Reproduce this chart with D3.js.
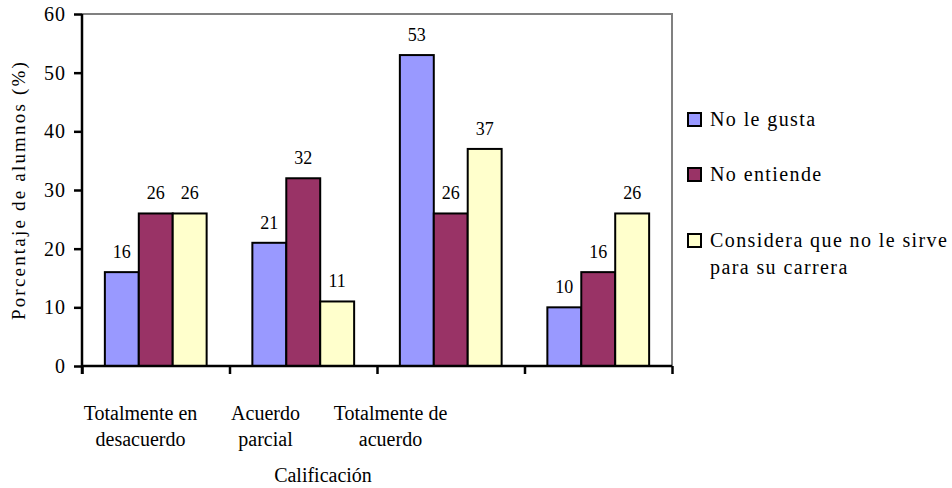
<!DOCTYPE html>
<html>
<head>
<meta charset="utf-8">
<script src="https://cdn.jsdelivr.net/npm/d3@7"></script>
<style>
  body { margin: 0; background: #fff; }
</style>
</head>
<body>
<script>
// Data
var categories = ["Totalmente en desacuerdo", "Acuerdo parcial", "Totalmente de acuerdo", ""];
var categoryLines = [["Totalmente en", "desacuerdo"], ["Acuerdo", "parcial"], ["Totalmente de", "acuerdo"], [""]];
var seriesNames = ["No le gusta", "No entiende", "Considera que no le sirve para su carrera"];
var legendLines = [["No le gusta"], ["No entiende"], ["Considera que no le sirve", "para su carrera"]];
var noLeGusta = [16, 21, 53, 10];
var noEntiende = [26, 32, 26, 16];
var noLeSirve = [26, 11, 37, 26];
var yTicks = [0, 10, 20, 30, 40, 50, 60];

var colors = ["#9999ff", "#993366", "#ffffcc"];
var series = [noLeGusta, noEntiende, noLeSirve];

var width = 952, height = 488;
var margin = { left: 82, top: 14, right: 280, bottom: 122 };
var plotW = width - margin.left - margin.right,
    plotH = height - margin.top - margin.bottom;

var svg = d3.select("body").append("svg")
    .attr("width", width)
    .attr("height", height);

var g = svg.append("g")
    .attr("transform", "translate(" + margin.left + "," + margin.top + ")");

// Scales
var x0 = d3.scaleBand().domain(categories).range([0, plotW])
    .paddingInner(0.31).paddingOuter(0.155);
var x1 = d3.scaleBand().domain(d3.range(series.length)).range([0, x0.bandwidth()]);
var y = d3.scaleLinear().domain([0, 60]).range([plotH, 0]);
var xb = d3.scaleLinear().domain([0, categories.length]).range([0, plotW]);

// Plot area frame (grey top/right)
g.append("path")
    .attr("d", "M0,0H" + plotW + "V" + plotH)
    .attr("fill", "none")
    .attr("stroke", "#808080")
    .attr("stroke-width", 2);

// Bars
var groups = g.selectAll(".grp")
    .data(categories)
    .enter().append("g")
    .attr("class", "grp")
    .attr("transform", function (d) { return "translate(" + x0(d) + ",0)"; });

groups.selectAll("rect")
    .data(function (d, i) { return series.map(function (s, j) { return { s: j, v: s[i] }; }); })
    .enter().append("rect")
    .attr("x", function (d) { return x1(d.s); })
    .attr("y", function (d) { return y(d.v); })
    .attr("width", x1.bandwidth())
    .attr("height", function (d) { return plotH - y(d.v); })
    .attr("fill", function (d) { return colors[d.s]; })
    .attr("stroke", "#000")
    .attr("stroke-width", 2);

groups.selectAll(".val")
    .data(function (d, i) { return series.map(function (s, j) { return { s: j, v: s[i] }; }); })
    .enter().append("text")
    .attr("class", "val")
    .attr("x", function (d) { return x1(d.s) + x1.bandwidth() / 2; })
    .attr("y", function (d) { return y(d.v) - 14; })
    .attr("text-anchor", "middle")
    .style("font-size", "18px")
    .text(function (d) { return d.v; });

// Y axis
var yAxis = g.append("g")
    .call(d3.axisLeft(y).tickValues(yTicks).tickSize(8).tickPadding(8));
yAxis.select(".domain").attr("stroke", "#000").attr("stroke-width", 2.5)
    .attr("d", "M0," + (plotH + 8) + "V0");
yAxis.selectAll(".tick line").attr("stroke-width", 2.5);
yAxis.selectAll("text").style("font-size", "20px").style("letter-spacing", "1px");

// X axis (ticks at category boundaries)
var xAxis = g.append("g")
    .attr("transform", "translate(0," + plotH + ")")
    .call(d3.axisBottom(xb).tickValues(d3.range(categories.length + 1)).tickSize(8).tickFormat(""));
xAxis.select(".domain").attr("stroke-width", 2.5).attr("d", "M0,0H" + plotW);
xAxis.selectAll(".tick line").attr("stroke-width", 2.5);

// Category labels
var xl = d3.scaleBand().domain(categories).range([-4, 496]);
categories.forEach(function (c, i) {
    var t = g.append("text")
        .attr("text-anchor", "middle")
        .style("font-size", "20px")
        .attr("x", xl(c) + xl.bandwidth() / 2)
        .attr("y", plotH + 54);
    categoryLines[i].forEach(function (line, k) {
        t.append("tspan")
            .attr("x", xl(c) + xl.bandwidth() / 2)
            .attr("dy", k === 0 ? 0 : 26)
            .text(line);
    });
});

// Axis titles
svg.append("text")
    .attr("x", 323)
    .attr("y", 482)
    .attr("text-anchor", "middle")
    .style("font-size", "20px")
    .text("Calificación");

svg.append("text")
    .attr("transform", "translate(25,190) rotate(-90)")
    .attr("text-anchor", "middle")
    .style("font-size", "19px")
    .style("letter-spacing", "2.2px")
    .text("Porcentaje de alumnos (%)");

// Legend
var legendY = [113, 168, 234];
var legend = svg.append("g").attr("transform", "translate(688,0)");
seriesNames.forEach(function (name, i) {
    legend.append("rect")
        .attr("x", 0)
        .attr("y", legendY[i])
        .attr("width", 13)
        .attr("height", 13)
        .attr("fill", colors[i])
        .attr("stroke", "#000")
        .attr("stroke-width", 2);
    var t = legend.append("text")
        .attr("x", 22)
        .attr("y", legendY[i] + 13)
        .style("font-size", "20px")
        .style("letter-spacing", "1.4px");
    legendLines[i].forEach(function (line, k) {
        t.append("tspan")
            .attr("x", 22)
            .attr("dy", k === 0 ? 0 : 27)
            .text(line);
    });
});

// Serif font on every label
svg.selectAll("text")
    .style("font-family", "'Liberation Serif'")
    .attr("fill", "#000");
</script>
</body>
</html>
